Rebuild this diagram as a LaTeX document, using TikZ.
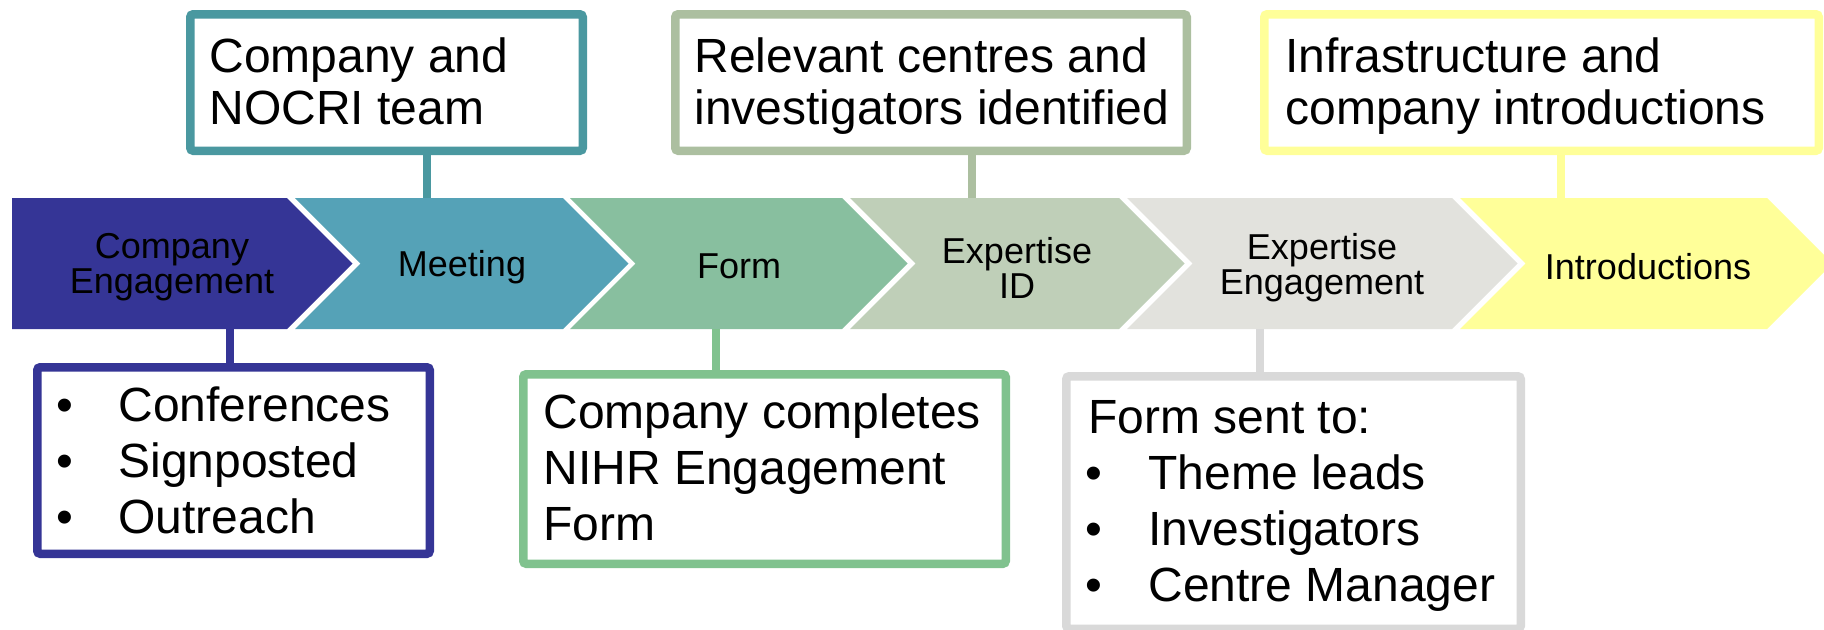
\documentclass[tikz,border=0pt]{standalone}
\usepackage{fontspec}
\setmainfont{Liberation Sans}
\definecolor{cBlue}{HTML}{353596}
\definecolor{cTeal}{HTML}{55A2B7}
\definecolor{cTealB}{HTML}{4A98A0}
\definecolor{cGreen}{HTML}{88BF9F}
\definecolor{cGreenB}{HTML}{80C28E}
\definecolor{cSage}{HTML}{BFCFB8}
\definecolor{cSageB}{HTML}{ACBFA0}
\definecolor{cGrey}{HTML}{E2E2DD}
\definecolor{cGreyB}{HTML}{D9D9D9}
\definecolor{cYellow}{HTML}{FFFF99}
\begin{document}
\begin{tikzpicture}[x=0.5pt,y=-0.5pt,
  chevtxt/.style={align=center, inner sep=0pt, font=\fontsize{18}{17.5}\selectfont},
  boxtxt/.style={anchor=base west, inner sep=0pt, font=\fontsize{24}{26}\selectfont},
  callout/.style={draw, line width=4.25pt, rounded corners=1.5pt, fill=white, inner sep=0pt},
  link/.style={line width=4.25pt}]
\useasboundingbox (0,0) rectangle (1824,629);
\clip (0,0) rectangle (1824,629);
% chevrons
\fill[cBlue] (12,198) -- (287,198) -- (352.5,263.5) -- (287,329) -- (12,329) -- cycle;
\fill[cTeal] (295,198) -- (563,198) -- (628.5,263.5) -- (563,329) -- (295,329) -- (360.5,263.5) -- cycle;
\fill[cGreen] (570,198) -- (842,198) -- (907.5,263.5) -- (842,329) -- (570,329) -- (635.5,263.5) -- cycle;
\fill[cSage] (850,198) -- (1119,198) -- (1184.5,263.5) -- (1119,329) -- (850,329) -- (915.5,263.5) -- cycle;
\fill[cGrey] (1127,198) -- (1452,198) -- (1517.5,263.5) -- (1452,329) -- (1127,329) -- (1192.5,263.5) -- cycle;
\fill[cYellow] (1460,198) -- (1767,198) -- (1832.5,263.5) -- (1767,329) -- (1460,329) -- (1525.5,263.5) -- cycle;
\node[chevtxt] (l1) at (172,267.5) {Company\\Engagement};
\node[chevtxt] (l2) at (462,267.5) {Meeting};
\node[chevtxt] (l3) at (739,266.5) {Form};
\node[chevtxt] (l4) at (1017,267.5) {Expertise\\ID};
\node[chevtxt] (l5) at (1322,267.5) {Expertise\\Engagement};
\node[chevtxt] (l6) at (1648,266.5) {Introductions};
% connector anchor points on the band
\coordinate (t2) at (427,198);
\coordinate (t4) at (972,198);
\coordinate (t6) at (1561,198);
\coordinate (b1) at (230,329);
\coordinate (b3) at (716,329);
\coordinate (b5) at (1260,329);
% boxes
\node[callout, draw=cTealB, minimum width=196.25pt, minimum height=68.25pt] (bx2) at (386.5,82.5) {};
\node[callout, draw=cSageB, minimum width=255.75pt, minimum height=68.25pt] (bx4) at (931,82.5) {};
\node[callout, draw=cYellow, minimum width=277.25pt, minimum height=68.25pt] (bx6) at (1541.5,82.5) {};
\node[callout, draw=cBlue, minimum width=196.25pt, minimum height=93.25pt] (bx1) at (233.5,460.5) {};
\node[callout, draw=cGreenB, minimum width=241.25pt, minimum height=94.75pt] (bx3) at (764.5,469) {};
\node[callout, draw=cGreyB, minimum width=227.25pt, minimum height=126.25pt] (bx5) at (1293.5,502.5) {};
% connectors
\draw[link, cTealB] (bx2.south -| t2) -- (t2);
\draw[link, cSageB] (bx4.south -| t4) -- (t4);
\draw[link, cYellow] (bx6.south -| t6) -- (t6);
\draw[link, cBlue] (b1) -- (b1 |- bx1.north);
\draw[link, cGreenB] (b3) -- (b3 |- bx3.north);
\draw[link, cGreyB] (b5) -- (b5 |- bx5.north);
% texts
\node[boxtxt] (p2a) at (209,72) {Company and};
\node[boxtxt] (p2b) at (209,124) {NOCRI team};
\node[boxtxt] (p4a) at (694,72) {Relevant centres and};
\node[boxtxt] (p4b) at (694,124) {investigators identified};
\node[boxtxt] (p6a) at (1285,72) {Infrastructure and};
\node[boxtxt] (p6b) at (1285,124) {company introductions};
\node[boxtxt] (p1a) at (56,421) {•};
\node[boxtxt] (p1b) at (56,477) {•};
\node[boxtxt] (p1c) at (56,533) {•};
\node[boxtxt] (q1a) at (118,421) {Conferences};
\node[boxtxt] (q1b) at (118,477) {Signposted};
\node[boxtxt] (q1c) at (118,533) {Outreach};
\node[boxtxt] (p3a) at (543,428) {Company completes};
\node[boxtxt] (p3b) at (543,484) {NIHR Engagement};
\node[boxtxt] (p3c) at (543,540) {Form};
\node[boxtxt] (p5a) at (1088,433) {Form sent to:};
\node[boxtxt] (p5b) at (1085,489) {•};
\node[boxtxt] (p5c) at (1085,545) {•};
\node[boxtxt] (p5d) at (1085,601) {•};
\node[boxtxt] (q5b) at (1148,489) {Theme leads};
\node[boxtxt] (q5c) at (1148,545) {Investigators};
\node[boxtxt] (q5d) at (1148,601) {Centre Manager};
\end{tikzpicture}
\end{document}
